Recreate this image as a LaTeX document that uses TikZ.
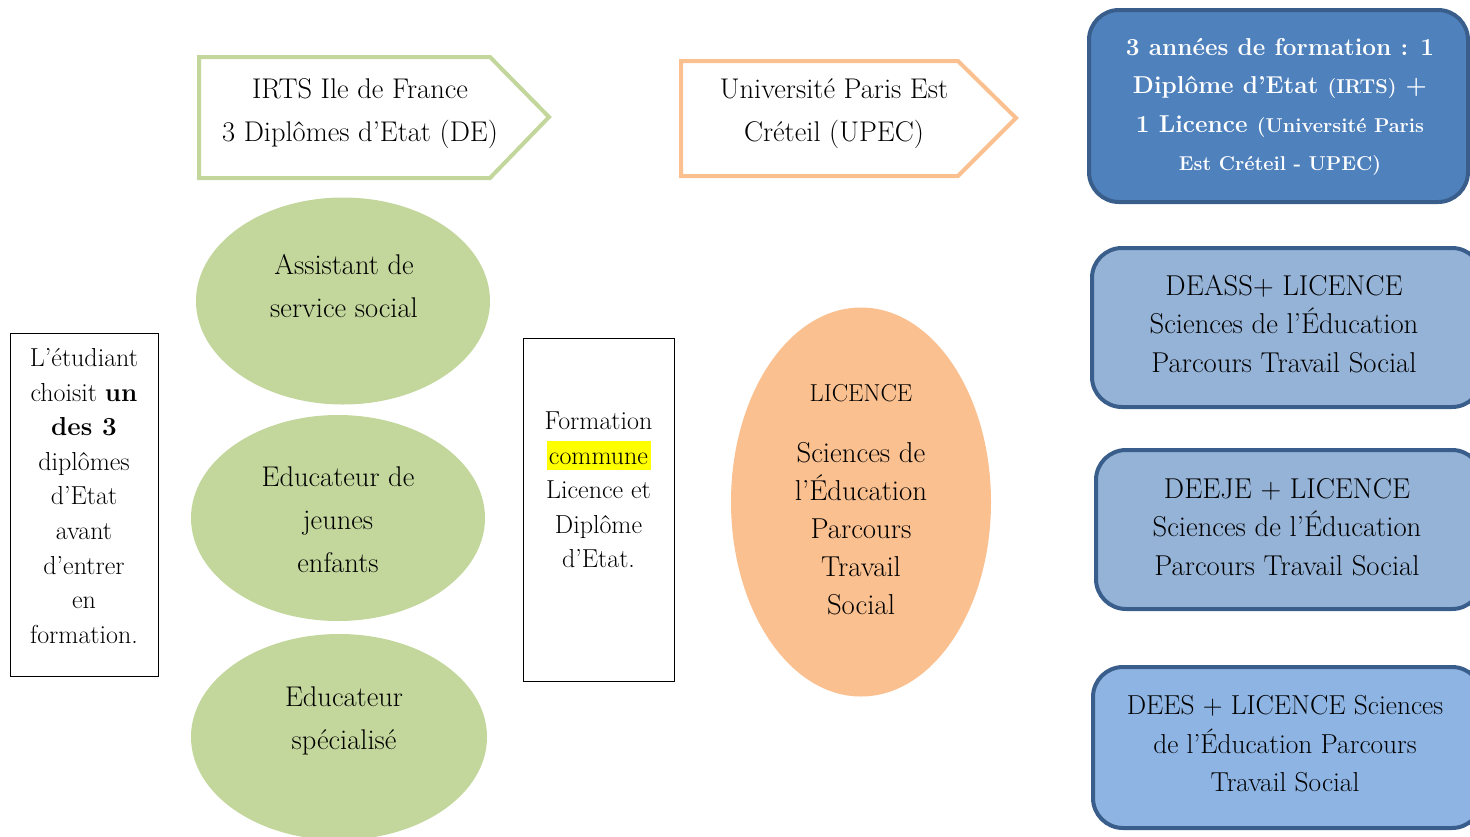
\documentclass[tikz,border=0pt]{standalone}
\usepackage{fontspec}
\usetikzlibrary{shapes.geometric}
\definecolor{grn}{HTML}{C3D69B}
\definecolor{org}{HTML}{FAC090}
\definecolor{blueA}{HTML}{4F81BD}
\definecolor{blueB}{HTML}{95B3D7}
\definecolor{blueC}{HTML}{8EB4E3}
\definecolor{bord}{HTML}{3A5E8C}
\definecolor{hl}{HTML}{FFFF00}
\begin{document}
\begin{tikzpicture}[x=1pt,y=-1pt,
  txt/.style={align=center, inner sep=0pt, font=\fontsize{28.5}{43}\selectfont},
  txtB/.style={align=center, inner sep=0pt, font=\fontsize{26}{34.6}\selectfont},
  txtR/.style={align=center, inner sep=0pt, font=\fontsize{28.7}{38.5}\selectfont},
  ell/.style={ellipse, fill=grn, draw=none, inner sep=0pt},
  rbox/.style={draw=bord, line width=4pt, rounded corners=30pt, inner sep=0pt},
  plainbox/.style={draw=black, line width=1pt, inner sep=0pt},
  arrowshape/.style={line width=4pt, line join=miter, fill=white}
]
\useasboundingbox (0,0) rectangle (1470,836);
\clip (0,0) rectangle (1470,836);

% header arrows
\draw[arrowshape, draw=grn] (199,57) -- (490,57) -- (549,117) -- (490,178) -- (199,178) -- cycle;
\node (irts) [txt] at (360,114) {IRTS Ile de France\\3 Diplômes d’Etat (DE)};
\draw[arrowshape, draw=org] (681,61) -- (958,61) -- (1016,118) -- (958,176) -- (681,176) -- cycle;
\node (upec) [txt] at (834,114) {Université Paris Est\\Créteil (UPEC)};

% green ellipses
\node (e1) [ell, minimum width=294pt, minimum height=207pt] at (343,301) {};
\node (t1) [txt] at (344,286) {Assistant de\\service social};
\node (e2) [ell, minimum width=294pt, minimum height=206pt] at (338,518) {};
\node (t2) [txt] at (338,520) {Educateur de\\jeunes\\enfants};
\node (e3) [ell, minimum width=296pt, minimum height=206pt] at (339,737) {};
\node (t3) [txt] at (344,721) {Educateur\\spécialisé};

% left box
\node (lb) [plainbox, minimum width=148pt, minimum height=343pt] at (84,504.5) {};
\node (lt) [txtB] at (84,496) {L’étudiant\\choisit \textbf{un}\\\textbf{des 3}\\diplômes\\d’Etat\\avant\\d’entrer\\en\\formation.};

% middle box
\node (mb) [plainbox, minimum width=151pt, minimum height=343pt] at (598.5,509.5) {};
\fill[hl] (547,441) rectangle (651,470);
\node (mt) [txtB] at (598.5,490) {Formation\\commune\\Licence et\\Diplôme\\d’Etat.};

% orange ellipse
\node (oe) [ellipse, fill=org, draw=none, minimum width=260pt, minimum height=389pt] at (861,502) {};
\node (lic) [inner sep=0pt, font=\fontsize{24.5}{28}\selectfont] at (861,393) {LICENCE};
\node (ot) [align=center, inner sep=0pt, font=\fontsize{28.8}{38}\selectfont] at (861,529) {Sciences de\\l’Éducation\\Parcours\\Travail\\Social};

% right boxes
\node (b1) [rbox, fill=blueA, minimum width=379pt, minimum height=192pt] at (1278.5,106) {};
\node (b1t) [align=center, inner sep=0pt, text=white, font=\fontsize{24.4}{38.5}\bfseries\selectfont] at (1280,107)
 {3 années de formation : 1\\Diplôme d’Etat {\fontsize{20}{38.5}\selectfont (IRTS)} +\\1 Licence {\fontsize{20}{38.5}\selectfont (Université Paris}\\{\fontsize{20}{35}\selectfont Est Créteil - UPEC)}};

\node (b2) [rbox, fill=blueB, minimum width=390pt, minimum height=159pt] at (1287,327.5) {};
\node (b2t) [txtR] at (1284,324) {DEASS+ LICENCE\\Sciences de l’Éducation\\Parcours Travail Social};

\node (b3) [rbox, fill=blueB, minimum width=386pt, minimum height=159pt] at (1289,529.5) {};
\node (b3t) [txtR] at (1287,527) {DEEJE + LICENCE\\Sciences de l’Éducation\\Parcours Travail Social};

\node (b4) [rbox, fill=blueC, minimum width=389pt, minimum height=161pt] at (1287.5,747.5) {};
\node (b4t) [txtR, font=\fontsize{27.4}{38.5}\selectfont] at (1285,744) {DEES + LICENCE Sciences\\de l’Éducation Parcours\\Travail Social};
\end{tikzpicture}
\end{document}
